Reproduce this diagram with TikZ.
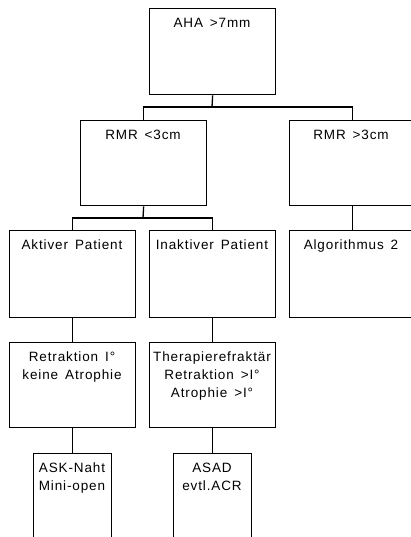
\documentclass[tikz,border=0pt]{standalone}
\usepackage{fontspec}
\newfontfamily\lab{Liberation Sans}[LetterSpace=6.5,WordSpace=1.5]
\begin{document}
\begin{tikzpicture}[x=1pt,y=-1pt,
  box/.style={draw,line width=1.3pt,inner sep=0pt,anchor=north west,minimum width=126pt},
  smallbox/.style={box,minimum width=78pt,minimum height=120pt},
  txt/.style={anchor=north,align=center,inner sep=0pt,font=\lab\fontsize{13.5}{18}\selectfont},
  conn/.style={line width=1.3pt}]
\clip (0,0) rectangle (411,537);
\fill[white] (0,0) rectangle (411,537);

% boxes
\node[box,minimum height=86pt] (aha) at (149,8) {};
\node[box,minimum height=85pt] (rmrl) at (80,120) {};
\node[box,minimum height=85pt] (rmrr) at (289,120) {};
\node[box,minimum height=87pt] (akt) at (9,230) {};
\node[box,minimum height=87pt] (inakt) at (149,230) {};
\node[box,minimum height=87pt] (algo) at (289,230) {};
\node[box,minimum height=85pt] (retr) at (9,342) {};
\node[box,minimum height=85pt] (ther) at (149,342) {};
\node[smallbox] (ask) at (33,453) {};
\node[smallbox] (asad) at (173,453) {};

% texts (first-line cap top about 10pt below the box top)
\node[txt] (ahat) at (212,18) {AHA >7mm};
\node[txt] (rmrlt) at (143,130) {RMR <3cm};
\node[txt] (rmrrt) at (351,130) {RMR >3cm};
\node[txt] (aktt) at (72,240) {Aktiver Patient};
\node[txt] (inaktt) at (212,240) {Inaktiver Patient};
\node[txt] (algot) at (351,240) {Algorithmus 2};
\node[txt] (retrt) at (72,352) {Retraktion I°\\keine Atrophie};
\node[txt] (thert) at (212,352) {Therapierefraktär\\Retraktion >I°\\Atrophie >I°};
\node[txt] (askt) at (72,463) {ASK-Naht\\Mini-open};
\node[txt] (asadt) at (212,463) {ASAD\\evtl.ACR};

% connectors
\coordinate (j1) at (212,107);
\coordinate (j2) at (143,218);
\draw[conn] (aha.south) -- (j1);
\draw[conn] (rmrl.north) |- (j1) -| (rmrr.north);
\draw[conn] (rmrl.south) -- (j2);
\draw[conn] (akt.north) |- (j2) -| (inakt.north);
\draw[conn] (rmrr.south) -- (algo.north);
\draw[conn] (akt.south) -- (retr.north);
\draw[conn] (inakt.south) -- (ther.north);
\draw[conn] (retr.south) -- (ask.north);
\draw[conn] (ther.south) -- (asad.north);
\end{tikzpicture}
\end{document}
